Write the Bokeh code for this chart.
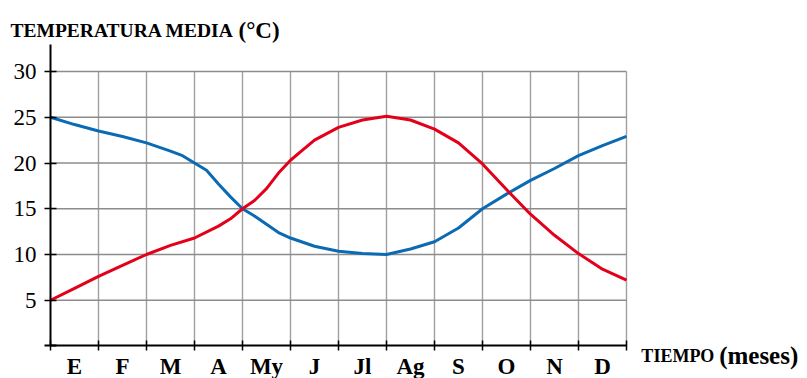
from bokeh.plotting import figure
from bokeh.models import LinearAxis, FixedTicker, Range1d, Label
from bokeh.embed import file_html
from bokeh.resources import INLINE

# ---- data ----
months = ["E", "F", "M", "A", "My", "J", "Jl", "Ag", "S", "O", "N", "D"]
red_x = [0, 0.5, 1, 1.5, 2, 2.5, 3, 3.5, 3.75, 4, 4.25, 4.5, 4.75, 5, 5.25, 5.5, 6,
         6.5, 7, 7.5, 8, 8.5, 9, 9.5, 10, 10.5, 11, 11.5, 12]
red_temp = [5.0, 6.3, 7.6, 8.8, 10.0, 11.0, 11.8, 13.1, 13.9, 15.0, 15.9, 17.2, 18.9, 20.3, 21.4,
            22.5, 23.9, 24.7, 25.1, 24.7, 23.7, 22.2, 19.9, 17.1, 14.4, 12.1, 10.1, 8.4, 7.2]
blue_x = [0, 0.5, 1, 1.5, 2, 2.5, 2.75, 3, 3.25, 3.5, 3.75, 4, 4.25, 4.5, 4.75, 5, 5.5,
          6, 6.5, 7, 7.5, 8, 8.5, 9, 9.5, 10, 10.5, 11, 11.5, 12]
blue_temp = [25.0, 24.2, 23.5, 22.9, 22.2, 21.3, 20.8, 20.0, 19.2, 17.7, 16.3, 15.0, 14.2, 13.3,
             12.4, 11.8, 10.9, 10.35, 10.1, 10.0, 10.6, 11.4, 12.9, 15.0, 16.6, 18.1, 19.4,
             20.8, 21.9, 22.9]
y_ticks = [5, 10, 15, 20, 25, 30]
month_bounds = list(range(13))
label_pos = [i + 0.5 for i in range(12)]

FONT = "Liberation Serif"

p = figure(width=807, height=378, output_backend="svg", toolbar_location=None,
           x_range=Range1d(-1.0417, 15.771), y_range=Range1d(-3.552, 37.76),
           x_axis_type=None, y_axis_type=None,
           min_border_left=0, min_border_right=0, min_border_top=0, min_border_bottom=0)
p.outline_line_color = None
p.background_fill_color = "white"
p.border_fill_color = "white"

# grid lines
p.segment(x0=month_bounds[1:], y0=[0] * 12, x1=month_bounds[1:], y1=[30] * 12,
          line_color="#a0a0a0", line_width=1.4)
p.segment(x0=[0] * len(y_ticks), y0=y_ticks, x1=[12] * len(y_ticks), y1=y_ticks,
          line_color="#8c8c8c", line_width=1.4)

# curves
p.line(blue_x, blue_temp, line_color="#0a6ab4", line_width=3, line_join="round")
p.line(red_x, red_temp, line_color="#e3001b", line_width=3, line_join="round")

# y axis
yax = LinearAxis(ticker=FixedTicker(ticks=y_ticks, minor_ticks=[0]), bounds=(0, 33),
                 fixed_location=0)
yax.axis_line_color = "black"
yax.axis_line_width = 2
yax.major_tick_in = 6
yax.major_tick_out = 6
yax.major_tick_line_width = 1.5
yax.minor_tick_in = 6
yax.minor_tick_out = 6
yax.minor_tick_line_width = 2
yax.minor_tick_line_color = "black"
yax.major_label_standoff = 8
yax.major_label_text_font = FONT
yax.major_label_text_font_size = "23px"
yax.major_label_text_color = "black"
p.add_layout(yax, "left")

# x axis
xax = LinearAxis(ticker=FixedTicker(ticks=label_pos, minor_ticks=month_bounds), bounds=(0, 12),
                 fixed_location=0,
                 major_label_overrides={lp: m for lp, m in zip(label_pos, months)})
xax.axis_line_color = "black"
xax.axis_line_width = 2
xax.major_tick_line_color = None
xax.major_tick_in = 0
xax.major_tick_out = 0
xax.minor_tick_in = 5
xax.minor_tick_out = 5
xax.minor_tick_line_width = 1.5
xax.minor_tick_line_color = "black"
xax.major_label_standoff = 3
xax.major_label_text_font = FONT
xax.major_label_text_font_size = "23px"
xax.major_label_text_font_style = "bold"
xax.major_label_text_color = "black"
p.add_layout(xax, "below")

# titles
p.add_layout(Label(x=-0.833, y=34.48, text="TEMPERATURA MEDIA", text_font=FONT,
                   text_font_size="19.5px", text_font_style="bold", text_baseline="alphabetic",
                   text_color="black"))
p.add_layout(Label(x=3.917, y=34.48, text="(°C)", text_font=FONT,
                   text_font_size="23px", text_font_style="bold", text_baseline="alphabetic",
                   text_color="black"))
p.add_layout(Label(x=12.31, y=-1.04, text="TIEMPO", text_font=FONT,
                   text_font_size="18px", text_font_style="bold", text_baseline="alphabetic",
                   text_color="black"))
p.add_layout(Label(x=13.93, y=-1.04, text="(meses)", text_font=FONT,
                   text_font_size="25px", text_font_style="bold", text_baseline="alphabetic",
                   text_color="black"))

open("out.html", "w").write(file_html(p, INLINE))
